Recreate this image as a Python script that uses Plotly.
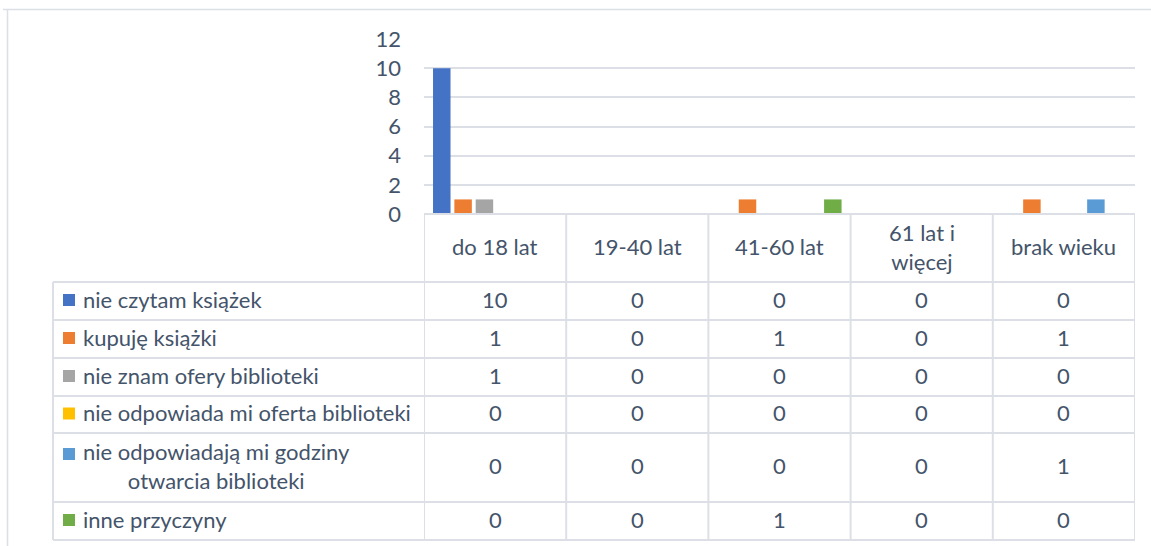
import plotly.graph_objects as go

categories = ["do 18 lat", "19-40 lat", "41-60 lat", "61 lat i<br>więcej", "brak wieku"]
series_names = [
    "nie czytam książek",
    "kupuję książki",
    "nie znam ofery biblioteki",
    "nie odpowiada mi oferta biblioteki",
    "nie odpowiadają mi godziny<br>otwarcia biblioteki",
    "inne przyczyny",
]
nie_czytam = [10, 0, 0, 0, 0]
kupuje = [1, 0, 1, 0, 1]
nie_znam = [1, 0, 0, 0, 0]
nie_odpowiada_oferta = [0, 0, 0, 0, 0]
nie_odpowiadaja_godziny = [0, 0, 0, 0, 1]
inne = [0, 0, 1, 0, 0]
series_values = [nie_czytam, kupuje, nie_znam, nie_odpowiada_oferta, nie_odpowiadaja_godziny, inne]
colors = ["#4472C4", "#ED7D31", "#A5A5A5", "#FFC000", "#5B9BD5", "#70AD47"]
y_ticks = [0, 2, 4, 6, 8, 10, 12]

W, H = 1151, 546
TXT = "#44546A"
LINE = "#DCE0E6"
FONT = "Lato"
FS = 22


def py(y):
    return 1 - y / H


def px(x):
    return x / W


fig = go.Figure()
xs = list(range(len(categories)))
for name, vals, col in zip(series_names, series_values, colors):
    fig.add_trace(go.Bar(x=xs, y=vals, name=name, marker=dict(color=col, line=dict(width=0))))

# geometry in pixels
plot_l, plot_r = 424, 1135
y0_px, y12_px = 214, 39
leg_l = 53
row_edges = [282, 320, 358, 396, 433, 502, 540]
header_top = 214

shapes = []
# outer chart border
shapes.append(dict(type="line", xref="paper", yref="paper", x0=px(3), x1=1, y0=py(9.5), y1=py(9.5),
                   line=dict(color=LINE, width=1.5)))
shapes.append(dict(type="line", xref="paper", yref="paper", x0=px(7.5), x1=px(7.5), y0=py(9.5), y1=0,
                   line=dict(color=LINE, width=1.5)))
# header top line
shapes.append(dict(type="line", xref="x", yref="paper", x0=-0.5, x1=len(categories) - 0.5,
                   y0=py(header_top), y1=py(header_top), line=dict(color=LINE, width=2)))
# row lines
for ye in row_edges:
    shapes.append(dict(type="line", xref="paper", yref="paper", x0=px(leg_l), x1=px(plot_r),
                       y0=py(ye), y1=py(ye), line=dict(color=LINE, width=2)))
# legend column left border
shapes.append(dict(type="line", xref="paper", yref="paper", x0=px(leg_l), x1=px(leg_l),
                   y0=py(row_edges[0]), y1=py(row_edges[-1]), line=dict(color=LINE, width=2)))
# column vertical lines
for i in range(len(categories) + 1):
    shapes.append(dict(type="line", xref="x", yref="paper", x0=i - 0.5, x1=i - 0.5,
                       y0=py(header_top), y1=py(row_edges[-1]), line=dict(color=LINE, width=2)))

annotations = []
# header
hdr_c = (header_top + row_edges[0]) / 2 - 1
for i, c in enumerate(categories):
    annotations.append(dict(x=i, xref="x", y=py(hdr_c), yref="paper", text=c, showarrow=False,
                            font=dict(family=FONT, size=FS, color=TXT), align="center",
                            xanchor="center", yanchor="middle"))
# rows
for r, (name, vals, col) in enumerate(zip(series_names, series_values, colors)):
    top, bot = row_edges[r], row_edges[r + 1]
    yc = (top + bot) / 2 - 2
    two_line = "<br>" in name
    annotations.append(dict(x=px(81), xref="paper", y=py(yc), yref="paper", text=name, showarrow=False,
                            font=dict(family=FONT, size=FS, color=TXT), align="center",
                            xanchor="left", yanchor="middle"))
    key_c = top + 21 if two_line else yc + 1
    shapes.append(dict(type="rect", xref="paper", yref="paper", x0=px(63), x1=px(75),
                       y0=py(key_c + 6), y1=py(key_c - 6), fillcolor=col, line=dict(width=0)))
    for i, v in enumerate(vals):
        annotations.append(dict(x=i, xref="x", y=py(yc), yref="paper", text=str(v), showarrow=False,
                                font=dict(family=FONT, size=FS, color=TXT),
                                xanchor="center", yanchor="middle"))

fig.update_layout(
    width=W, height=H,
    margin=dict(l=0, r=0, t=0, b=0, autoexpand=False),
    paper_bgcolor="white", plot_bgcolor="white",
    barmode="group", bargap=0.1, bargroupgap=0.18,
    showlegend=False,
    xaxis=dict(domain=[px(plot_l), px(plot_r)], range=[-0.5, len(categories) - 0.5],
               showticklabels=False, showgrid=False, zeroline=False, showline=False, ticks="",
               automargin=False),
    yaxis=dict(domain=[py(y0_px), py(y12_px)], range=[0, 12], tickvals=y_ticks,
               showgrid=True, gridcolor=LINE, gridwidth=2, zeroline=False, showline=False,
               tickfont=dict(family=FONT, size=FS, color=TXT), ticklabelstandoff=22,
               automargin=False),
    shapes=shapes,
    annotations=annotations,
)

fig.write_html("out.html", config={"displayModeBar": False},
               post_script="document.body.style.margin='0';")
